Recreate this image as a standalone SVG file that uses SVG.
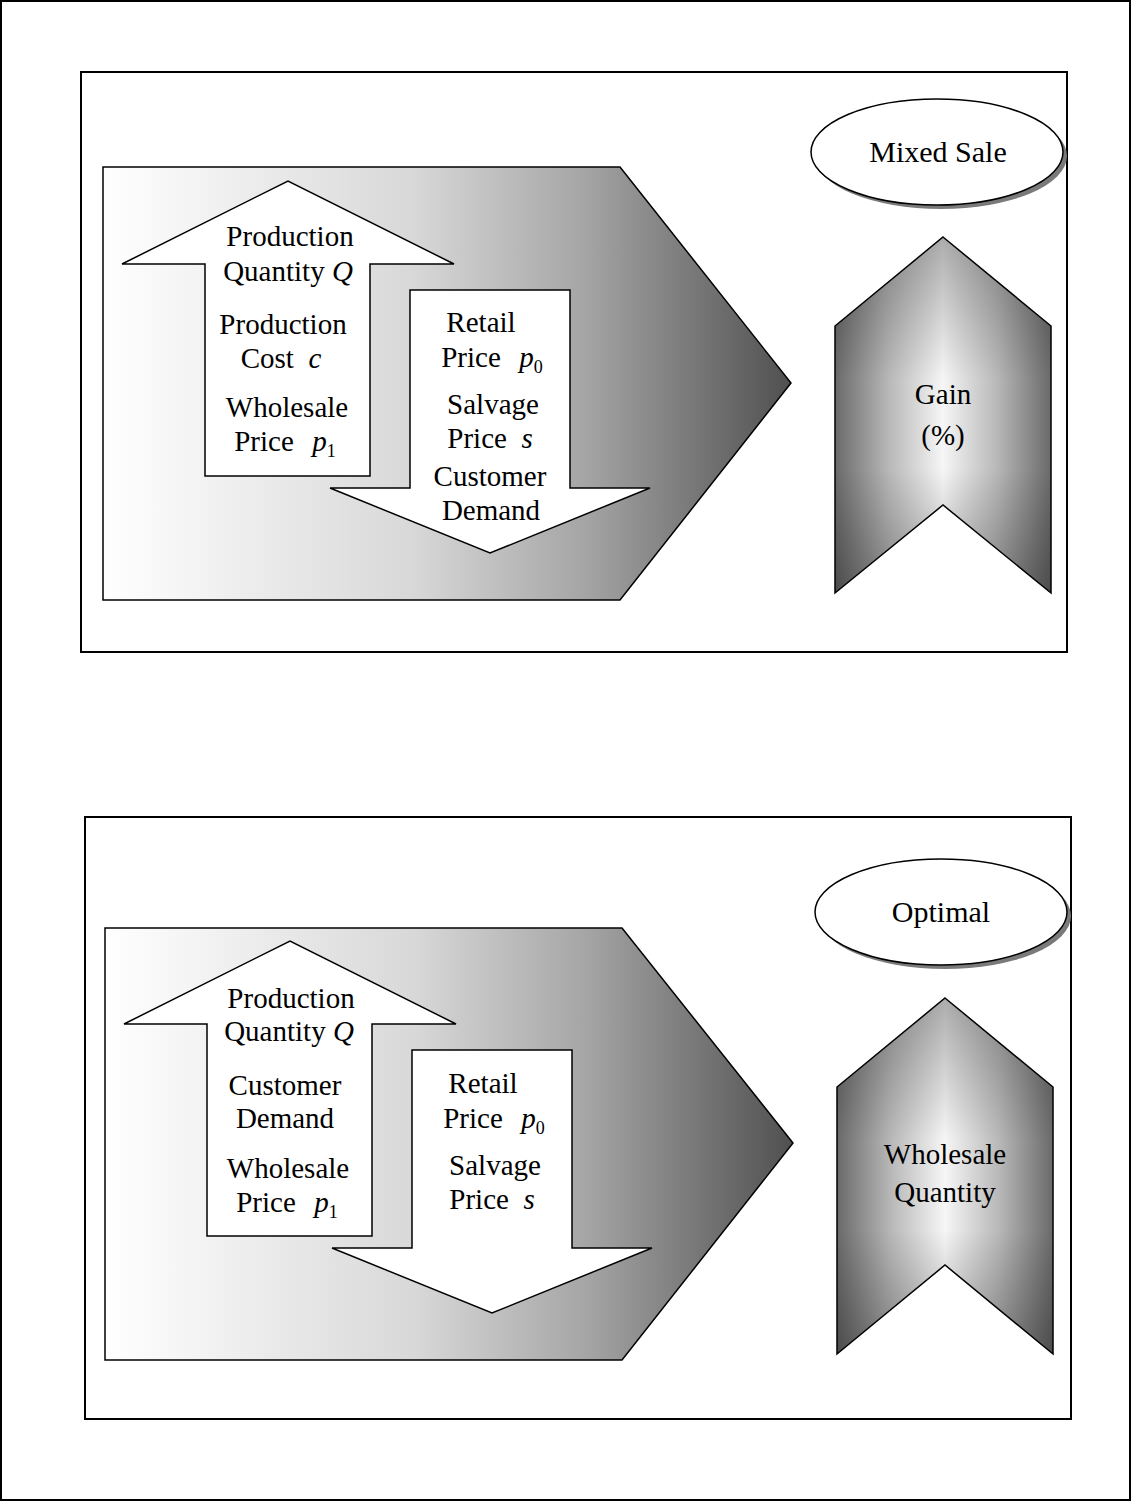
<svg xmlns="http://www.w3.org/2000/svg" width="1132" height="1502" viewBox="0 0 1132 1502">
<defs>
<linearGradient id="pentGrad" x1="0" y1="0" x2="1" y2="0">
<stop offset="0" stop-color="#ffffff"/>
<stop offset="0.45" stop-color="#d8d8d8"/>
<stop offset="0.7" stop-color="#a5a5a5"/>
<stop offset="1" stop-color="#505050"/>
</linearGradient>
<linearGradient id="chevH" x1="0" y1="0" x2="1" y2="0">
<stop offset="0" stop-color="#6a6a6a"/>
<stop offset="0.25" stop-color="#b8b8b8"/>
<stop offset="0.5" stop-color="#f6f6f6"/>
<stop offset="0.75" stop-color="#b8b8b8"/>
<stop offset="1" stop-color="#6a6a6a"/>
</linearGradient>
<linearGradient id="chevV" x1="0" y1="0" x2="0" y2="1">
<stop offset="0" stop-color="#000" stop-opacity="0.3"/>
<stop offset="0.4" stop-color="#000" stop-opacity="0"/>
<stop offset="0.65" stop-color="#000" stop-opacity="0"/>
<stop offset="1" stop-color="#000" stop-opacity="0.3"/>
</linearGradient>
</defs>
<style>
.frame{fill:#fff;stroke:#000;stroke-width:2}
.shape{stroke:#000;stroke-width:1.5;stroke-linejoin:miter}
.white{fill:#fff}
.pent{fill:url(#pentGrad)}
.chevH{fill:url(#chevH)}
.chevV{fill:url(#chevV);stroke:#000;stroke-width:1.5}
.shadow{fill:#7a7a7a}
text{font-family:"Liberation Serif","Times New Roman",serif;font-size:29px;fill:#000;text-anchor:middle}
.it{font-style:italic}
.sub{font-size:18px;font-style:normal}
</style>
<rect x="1" y="1" width="1129" height="1499" fill="#fff" stroke="#000" stroke-width="2"/>

<g id="panel-top">
<rect class="frame" x="81" y="72" width="986" height="580"/>
<g id="pentagon-top">
<polygon class="shape pent" points="103,167 620,167 791,383 620,600 103,600"/>
</g>
<g id="up-arrow-top">
<polygon class="shape white" points="122,264 288,181 454,264 370,264 370,476 205,476 205,264"/>
<text x="290" y="246">Production</text>
<text x="288" y="281" xml:space="preserve">Quantity <tspan class="it">Q</tspan></text>
<text x="283" y="334">Production</text>
<text x="281" y="368" xml:space="preserve">Cost  <tspan class="it">c</tspan></text>
<text x="287" y="417">Wholesale</text>
<text x="285" y="451" xml:space="preserve">Price  <tspan class="it" dx="4">p</tspan><tspan class="sub" dy="6">1</tspan></text>
</g>
<g id="down-arrow-top">
<polygon class="shape white" points="410,290 570,290 570,488 650,488 490,553 330,488 410,488"/>
<text x="481" y="332">Retail</text>
<text x="492" y="367" xml:space="preserve">Price  <tspan class="it" dx="4">p</tspan><tspan class="sub" dy="6">0</tspan></text>
<text x="493" y="414">Salvage</text>
<text x="490" y="448" xml:space="preserve">Price  <tspan class="it">s</tspan></text>
<text x="490" y="486">Customer</text>
<text x="491" y="520">Demand</text>
</g>
<g id="ellipse-top">
<ellipse class="shadow" cx="941" cy="156" rx="126" ry="53"/>
<ellipse class="shape white" cx="937" cy="152" rx="126" ry="53"/>
<text x="938" y="162" style="font-size:30px">Mixed Sale</text>
</g>
<g id="chevron-top">
<polygon class="chevH" points="943,237 1051,326 1051,593 943,505 835,593 835,326"/>
<polygon class="chevV" points="943,237 1051,326 1051,593 943,505 835,593 835,326"/>
<text x="943" y="404">Gain</text>
<text x="943" y="445">(%)</text>
</g>
</g>

<g id="panel-bottom">
<rect class="frame" x="85" y="817" width="986" height="602"/>
<g id="pentagon-bottom">
<polygon class="shape pent" points="105,928 622,928 793,1143 622,1360 105,1360"/>
</g>
<g id="up-arrow-bottom">
<polygon class="shape white" points="124,1024 290,941 456,1024 372,1024 372,1236 207,1236 207,1024"/>
<text x="291" y="1008">Production</text>
<text x="289" y="1041" xml:space="preserve">Quantity <tspan class="it">Q</tspan></text>
<text x="285" y="1095">Customer</text>
<text x="285" y="1128">Demand</text>
<text x="288" y="1178">Wholesale</text>
<text x="287" y="1212" xml:space="preserve">Price  <tspan class="it" dx="4">p</tspan><tspan class="sub" dy="6">1</tspan></text>
</g>
<g id="down-arrow-bottom">
<polygon class="shape white" points="412,1050 572,1050 572,1248 652,1248 492,1313 332,1248 412,1248"/>
<text x="483" y="1093">Retail</text>
<text x="494" y="1128" xml:space="preserve">Price  <tspan class="it" dx="4">p</tspan><tspan class="sub" dy="6">0</tspan></text>
<text x="495" y="1175">Salvage</text>
<text x="492" y="1209" xml:space="preserve">Price  <tspan class="it">s</tspan></text>
</g>
<g id="ellipse-bottom">
<ellipse class="shadow" cx="945" cy="916" rx="126" ry="53"/>
<ellipse class="shape white" cx="941" cy="912" rx="126" ry="53"/>
<text x="941" y="922" style="font-size:30px">Optimal</text>
</g>
<g id="chevron-bottom">
<polygon class="chevH" points="945,998 1053,1087 1053,1354 945,1265 837,1354 837,1087"/>
<polygon class="chevV" points="945,998 1053,1087 1053,1354 945,1265 837,1354 837,1087"/>
<text x="945" y="1164">Wholesale</text>
<text x="945" y="1202">Quantity</text>
</g>
</g>

<g id="connectors"></g>
</svg>
